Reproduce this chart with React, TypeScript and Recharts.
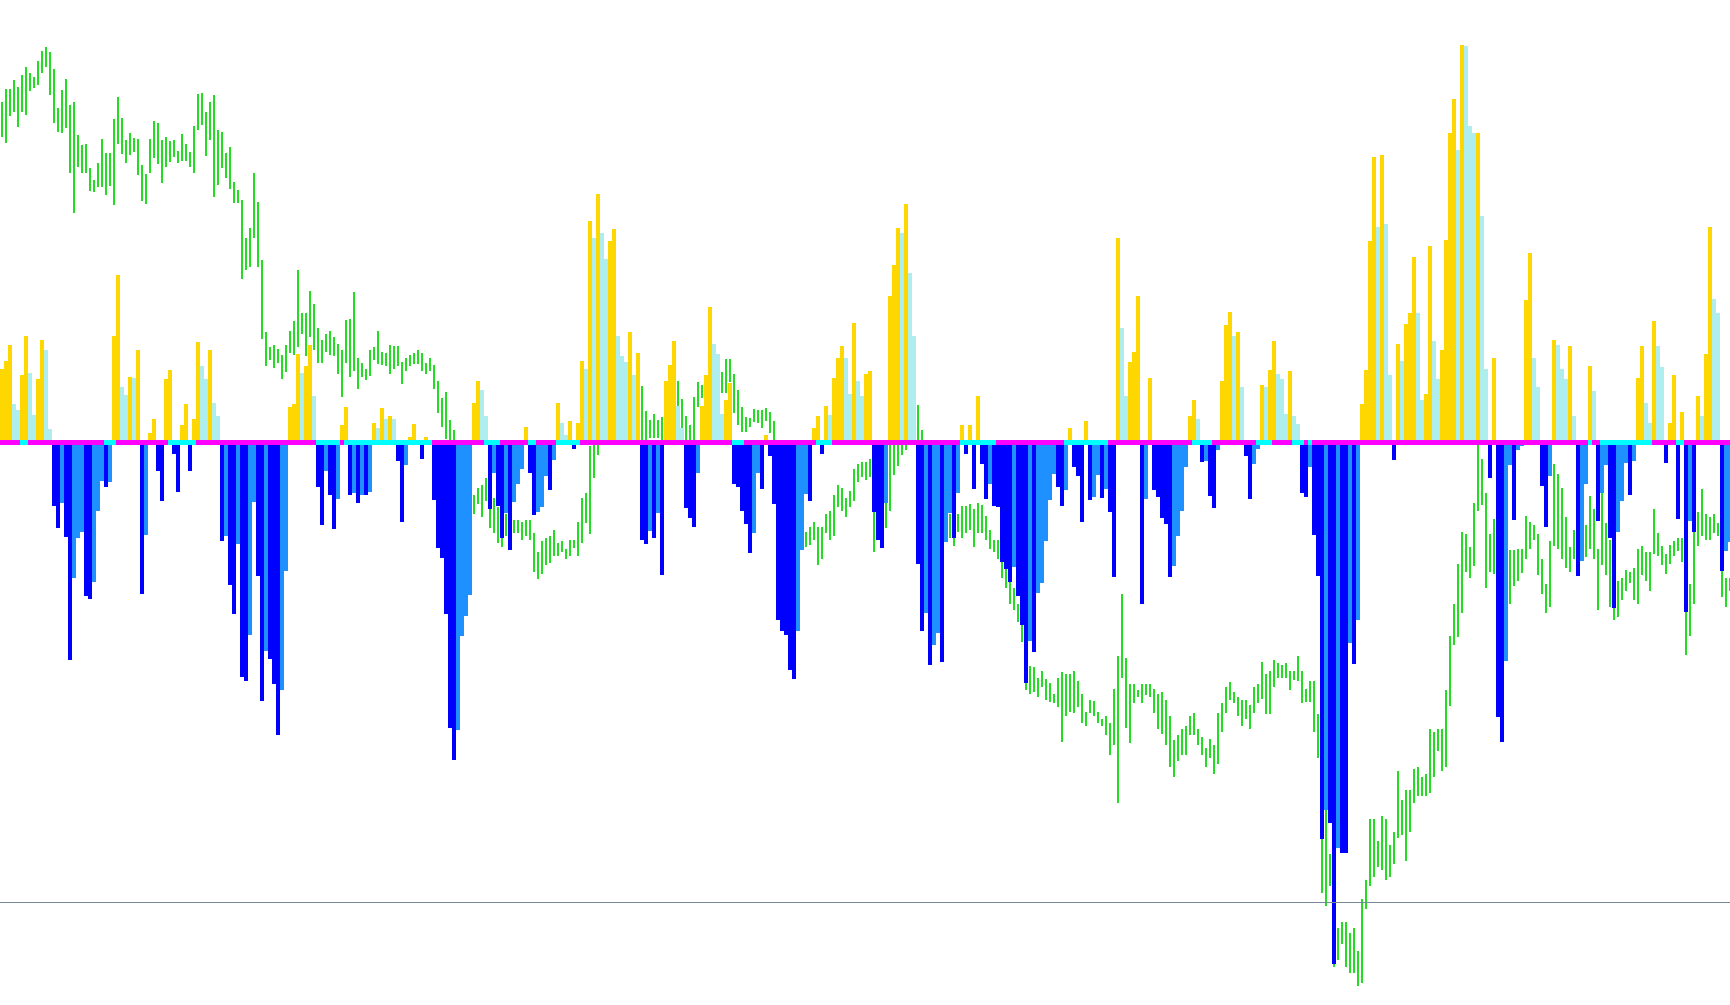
import React from 'react';
import { ComposedChart, Bar, Cell, XAxis, YAxis, ReferenceLine } from 'recharts';

// oscillator histogram, one value per bar (units above the zero line)
const osc = [
  74, 82, 98, 39, 33, 67, 107, 70, 28, 64, 103, 92, 13, -63, -85, -60, -94, -217, -135, -95,
  -89, -153, -156, -139, -68, -38, -44, -39, 107, 168, 56, 48, 66, 65, 92, -151, -92, 10, 24, -28,
  -58, 63, 73, -11, -49, 17, 39, -28, 24, 100, 77, 64, 92, 40, 27, -98, -93, -142, -171, -101,
  -234, -238, -192, -59, -133, -258, -208, -216, -241, -292, -247, -128, 36, 39, 89, 70, 77, 98, 47, -44,
  -82, -28, -52, -86, -56, 17, 36, -52, -50, -60, -52, -52, -49, 20, 15, 35, 24, 27, 24, -18,
  -79, -22, 6, 19, 2, -16, 6, 3, -57, -105, -115, -171, -285, -317, -287, -193, -173, -152, 40, 62,
  53, 26, -66, -30, -63, -95, -70, -107, -59, -41, -26, 16, -30, -72, -69, -64, -33, -47, -17, 40,
  20, 8, 21, -6, 20, 82, 74, 221, 204, 249, 210, 184, 201, 213, 107, 87, 81, 111, 67, 90,
  -97, -101, -88, -95, -70, -132, 62, 78, 102, 37, 15, -65, -75, -84, -30, 37, 67, 136, 99, 89,
  29, 42, 59, -41, -44, -68, -81, -110, -90, -30, -46, 8, -13, -61, -177, -188, -192, -227, -236, -188,
  -107, -51, -58, 15, 27, -11, 37, 28, 65, 85, 97, 85, 49, 120, 62, 47, 69, 71, -69, -97,
  -105, -60, 146, 178, 215, 209, 238, 170, 107, -121, -188, -170, -222, -202, -190, -219, -99, -70, -95, -50,
  17, -11, 17, -46, 46, -21, -56, -41, -63, -64, -119, -126, -139, -124, -153, -182, -240, -198, -209, -150,
  -140, -98, -57, -31, -44, -63, -47, 15, -24, -33, -79, 21, -57, -54, -32, -55, -46, -69, -134, 204,
  115, 46, 81, 91, 146, -161, -56, 65, -47, -54, -75, -81, -134, -123, -93, -68, -24, 26, 42, 24,
  -19, -18, -53, -65, -7, 62, 117, 131, 107, 111, 56, -13, -56, -21, -6, 58, 56, 73, 102, 69,
  64, 29, 72, 27, 19, -50, -54, -24, -92, -133, -396, -367, -380, -521, -405, -410, -410, -200, -221, -177,
  39, 73, 201, 286, 216, 287, 219, 67, -17, 99, 82, 119, 129, 186, 130, 42, 49, 197, 102, 63,
  92, 203, 310, 344, 292, 398, 396, 316, 310, 310, 227, 74, -35, 84, -274, -299, -218, -22, -77, -7,
  -3, 142, 190, 85, 55, -43, -84, -33, 103, 98, 74, 63, 97, 27, -133, -118, -41, 77, 52, -78,
  -50, -22, -95, -165, -89, -58, -20, -52, -18, 65, 97, 40, 20, 122, 96, 76, -20, 20, 67, -76,
  31, -169, -78, -89, 47, 26, 89, 216, 144, 130, -128, -108, -99,
];

// price bars (high / low)
const priceHigh = [
  898, 911, 911, 920, 913, 925, 933, 927, 923, 939, 949, 953, 948, 931, 892, 910, 921, 895, 898, 865,
  855, 856, 832, 820, 837, 861, 847, 847, 881, 903, 882, 860, 867, 862, 861, 835, 826, 861, 879, 877,
  860, 863, 859, 860, 849, 866, 856, 848, 874, 906, 907, 888, 898, 905, 870, 868, 847, 853, 818, 810,
  800, 762, 772, 827, 798, 740, 668, 653, 655, 651, 645, 655, 669, 679, 730, 687, 687, 709, 696, 672,
  660, 666, 669, 663, 656, 650, 680, 681, 708, 642, 637, 631, 650, 653, 669, 648, 647, 655, 654, 654,
  638, 642, 645, 647, 650, 647, 637, 642, 635, 619, 602, 608, 580, 570, 560, 550, 540, 530, 505, 512,
  515, 522, 509, 502, 493, 489, 486, 493, 480, 480, 478, 480, 480, 467, 448, 459, 462, 464, 470, 457,
  459, 451, 460, 460, 478, 502, 507, 554, 570, 580, 590, 600, 605, 610, 615, 610, 620, 625, 622, 646,
  614, 589, 580, 586, 580, 583, 612, 615, 620, 619, 601, 584, 575, 603, 618, 615, 617, 620, 625, 620,
  628, 641, 641, 626, 610, 593, 583, 582, 591, 590, 590, 592, 588, 579, 555, 545, 535, 525, 510, 495,
  480, 468, 473, 478, 473, 473, 486, 489, 505, 515, 512, 502, 509, 531, 536, 538, 538, 541, 531, 525,
  499, 510, 555, 560, 570, 575, 580, 585, 595, 595, 570, 560, 545, 530, 520, 510, 500, 486, 493, 486,
  494, 494, 496, 491, 497, 495, 484, 470, 460, 460, 440, 432, 425, 412, 396, 400, 358, 334, 333, 322,
  329, 321, 317, 306, 322, 328, 326, 326, 329, 319, 306, 288, 300, 299, 288, 281, 284, 277, 311, 344,
  406, 342, 316, 316, 310, 316, 316, 316, 311, 306, 308, 300, 284, 260, 265, 271, 274, 284, 287, 271,
  263, 252, 261, 255, 287, 297, 313, 318, 308, 303, 300, 300, 295, 313, 316, 338, 326, 329, 340, 337,
  335, 337, 329, 329, 344, 329, 311, 319, 319, 286, 287, 220, 146, 143, 72, 78, 78, 67, 72, 49,
  101, 120, 181, 181, 159, 184, 181, 155, 168, 229, 200, 210, 210, 231, 233, 223, 226, 271, 268, 271,
  271, 310, 364, 396, 436, 468, 466, 453, 497, 556, 541, 507, 466, 481, 451, 450, 450, 450, 450, 451,
  451, 484, 478, 475, 466, 441, 416, 459, 536, 526, 512, 483, 453, 470, 470, 467, 475, 504, 491, 451,
  512, 477, 460, 416, 419, 422, 430, 428, 432, 451, 454, 448, 448, 491, 467, 454, 446, 455, 459, 462,
  462, 419, 416, 470, 488, 511, 486, 483, 486, 477, 477, 422, 422,
];

const priceLow = [
  863, 857, 884, 888, 873, 888, 885, 909, 912, 915, 927, 933, 905, 877, 868, 867, 872, 827, 787, 833,
  827, 827, 809, 808, 813, 813, 805, 814, 795, 856, 846, 837, 845, 848, 825, 799, 796, 827, 842, 836,
  817, 833, 838, 843, 837, 839, 839, 833, 827, 870, 875, 844, 860, 803, 815, 832, 822, 811, 797, 797,
  721, 730, 733, 762, 733, 661, 634, 640, 632, 637, 621, 628, 647, 645, 653, 666, 644, 663, 650, 637,
  637, 648, 645, 644, 626, 603, 637, 623, 629, 611, 623, 620, 624, 640, 636, 635, 634, 626, 631, 634,
  616, 629, 634, 636, 636, 629, 626, 629, 611, 587, 573, 561, 545, 530, 520, 510, 500, 495, 486, 496,
  483, 499, 472, 467, 457, 453, 464, 457, 467, 467, 460, 464, 460, 428, 421, 426, 435, 437, 444, 444,
  448, 441, 444, 452, 444, 457, 477, 466, 522, 545, 555, 560, 570, 575, 575, 580, 585, 590, 587, 588,
  560, 560, 562, 562, 562, 560, 560, 590, 580, 574, 567, 560, 555, 560, 593, 602, 587, 600, 600, 600,
  607, 607, 618, 587, 575, 568, 568, 573, 578, 577, 572, 579, 567, 555, 520, 510, 500, 490, 480, 465,
  455, 453, 455, 460, 435, 441, 467, 460, 464, 493, 489, 483, 493, 499, 518, 523, 520, 523, 448, 460,
  483, 472, 489, 525, 534, 545, 550, 555, 568, 560, 540, 520, 505, 490, 480, 475, 470, 462, 454, 468,
  462, 467, 470, 453, 467, 467, 460, 451, 448, 441, 422, 412, 396, 390, 378, 358, 310, 306, 308, 303,
  313, 300, 298, 297, 293, 258, 284, 288, 287, 293, 277, 274, 287, 284, 277, 274, 265, 245, 255, 197,
  322, 272, 257, 297, 303, 297, 305, 303, 287, 271, 266, 255, 233, 223, 239, 245, 245, 265, 265, 255,
  245, 233, 242, 226, 236, 268, 287, 300, 297, 284, 274, 281, 271, 287, 297, 301, 286, 286, 313, 322,
  322, 322, 310, 320, 319, 297, 298, 298, 268, 242, 107, 94, 114, 33, 40, 56, 33, 27, 27, 14,
  17, 91, 114, 123, 133, 130, 120, 123, 136, 162, 165, 139, 168, 197, 204, 204, 204, 207, 223, 249,
  229, 233, 294, 355, 363, 387, 428, 422, 434, 489, 495, 412, 428, 426, 419, 410, 400, 396, 414, 419,
  427, 441, 451, 460, 425, 406, 387, 393, 454, 451, 441, 432, 428, 441, 446, 454, 443, 451, 441, 390,
  435, 425, 393, 380, 383, 400, 409, 417, 400, 396, 425, 419, 409, 446, 444, 435, 426, 436, 444, 449,
  438, 345, 364, 396, 454, 464, 460, 460, 467, 464, 403, 393, 409,
];

// bar index ranges where the signal line is flat (drawn cyan instead of magenta)
const flatRanges = [
  [5, 6], [26, 28], [42, 48], [79, 84], [86, 107], [121, 124], [132, 133], [139, 144],
  [183, 185], [204, 207], [240, 248], [266, 276], [298, 302], [314, 317], [323, 325],
  [327, 327], [397, 397], [400, 412], [419, 420],
];

const level = -460;

const GOLD = '#FFD700';
const PALE = '#AFEEEE';
const BLUE = '#0000FF';
const DODGER = '#1E90FF';
const MAGENTA = '#FF00FF';
const CYAN = '#00FFFF';
const PRICE = '#22DD22';

const W = 1730;
const H = 1005;
const BAND = 2.5;

const data = osc.map((v, i) => ({
  i,
  osc: v,
  price: [priceLow[i], priceHigh[i]],
  band: [-BAND, BAND],
  flat: flatRanges.some(([a, b]) => i >= a && i <= b),
}));

const oscColor = (i: number) => {
  const v = osc[i];
  const prev = i > 0 ? osc[i - 1] : 0;
  if (v >= 0) return v >= prev ? GOLD : PALE;
  return v <= prev ? BLUE : DODGER;
};

// snap rectangles to whole pixels so neighbouring bars touch without seams
const SolidBar = (props: any) => {
  const { x, y, width, height, fill } = props;
  if (x == null || y == null || !width || !height) return null;
  const top = Math.min(y, y + height);
  const left = Math.round(x);
  const right = Math.round(x + width);
  return (
    <rect
      x={left}
      y={Math.round(top)}
      width={Math.max(1, right - left)}
      height={Math.max(1, Math.round(Math.abs(height)))}
      fill={fill}
      shapeRendering="crispEdges"
    />
  );
};

export default function App() {
  return (
    <div style={{ position: 'fixed', left: 0, top: 0, width: W, height: H, overflow: 'hidden', background: '#fff' }}>
      <ComposedChart
        width={osc.length * 4}
        height={H}
        data={data}
        margin={{ top: 0, right: 0, bottom: 0, left: 0 }}
        barCategoryGap={0}
        barGap={0}
      >
        <XAxis xAxisId="price" dataKey="i" hide />
        <XAxis xAxisId="osc" dataKey="i" hide />
        <XAxis xAxisId="band" dataKey="i" hide />
        <YAxis yAxisId="price" domain={[-5, 1000]} hide allowDataOverflow />
        <YAxis yAxisId="osc" domain={[-562.5, 442.5]} hide allowDataOverflow />

        <Bar xAxisId="price" yAxisId="price" dataKey="price" barSize={2} fill={PRICE} shape={SolidBar} isAnimationActive={false} />
        <Bar xAxisId="osc" yAxisId="osc" dataKey="osc" barSize={4} shape={SolidBar} isAnimationActive={false}>
          {data.map((d) => (
            <Cell key={`o-${d.i}`} fill={oscColor(d.i)} />
          ))}
        </Bar>
        <Bar xAxisId="band" yAxisId="osc" dataKey="band" barSize={4} shape={SolidBar} isAnimationActive={false}>
          {data.map((d) => (
            <Cell key={`b-${d.i}`} fill={d.flat ? CYAN : MAGENTA} />
          ))}
        </Bar>
        <ReferenceLine xAxisId="osc" yAxisId="osc" y={level} stroke="#778899" strokeWidth={1} />
      </ComposedChart>
    </div>
  );
}
